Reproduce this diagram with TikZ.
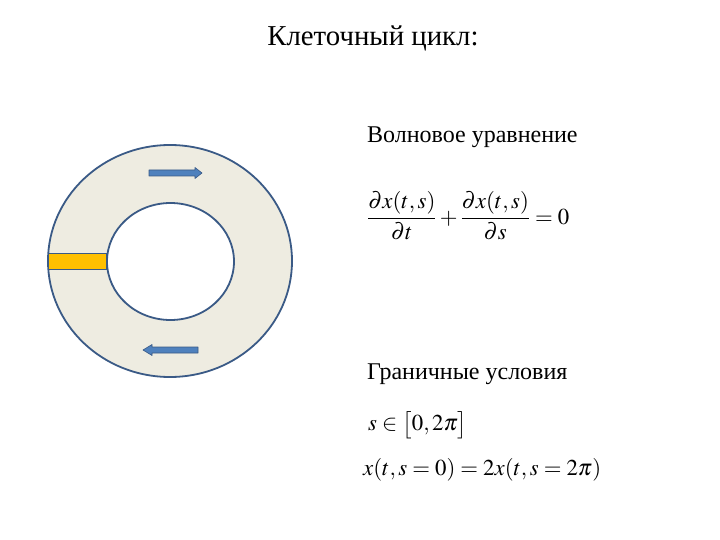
\documentclass[tikz,border=0pt]{standalone}
\usepackage{amsmath}
\usepackage{mathptmx}
\usepackage{fontspec}
\setmainfont{Liberation Serif}

\definecolor{ringfill}{HTML}{EEECE1}
\definecolor{ringline}{HTML}{3A5A86}
\definecolor{gatefill}{HTML}{FFC000}
\definecolor{flowfill}{HTML}{4F81BD}

\tikzset{
  ring/.style={draw=ringline,line width=1.8pt},
  flow/.style={fill=flowfill,draw=ringline,line width=0.6pt,line join=round},
  txt/.style={anchor=west,inner sep=0pt},
  mathtxt/.style={txt,font=\fontsize{22.8}{27}\selectfont},
}

\begin{document}
\begin{tikzpicture}[x=1pt,y=-1pt]
        \useasboundingbox (0,0) rectangle (720,540);
        % ring of the cycle
        \draw[ring,fill=ringfill] (170,261) ellipse [x radius=122,y radius=116];
        \draw[ring,fill=white] (170.5,261.5) ellipse [x radius=63.5,y radius=58.5];
        \draw[draw=ringline,line width=0.8pt,fill=gatefill] (48,253) rectangle (106,269);
        % block arrows
        \filldraw[flow] (149,170) -- (195,170) -- (195,167.5) -- (202,173) -- (195,178.5) -- (195,176) -- (149,176) -- cycle;
        \filldraw[flow] (198,347) -- (152,347) -- (152,344.5) -- (143,350) -- (152,355.5) -- (152,353) -- (198,353) -- cycle;
        % texts
        \node[inner sep=0pt,font=\fontsize{28.8}{32}\selectfont] (title) at (373,38) {Клеточный цикл:};
        \node[txt,font=\fontsize{24}{28}\selectfont] (wave) at (367,137) {Волновое уравнение};
        \node[mathtxt] (waveeq) at (367,216) {$\dfrac{\partial x(t,s)}{\partial t}+\dfrac{\partial x(t,s)}{\partial s}=0$};
        \node[txt,font=\fontsize{24}{28}\selectfont] (bound) at (367,374) {Граничные условия};
        \node[mathtxt] (range) at (368,425) {$s\in\bigl[0,2\pi\bigr]$};
        \node[mathtxt] (bc) at (363,470) {$x(t,s=0)=2x(t,s=2\pi)$};
    \end{tikzpicture}
\end{document}
